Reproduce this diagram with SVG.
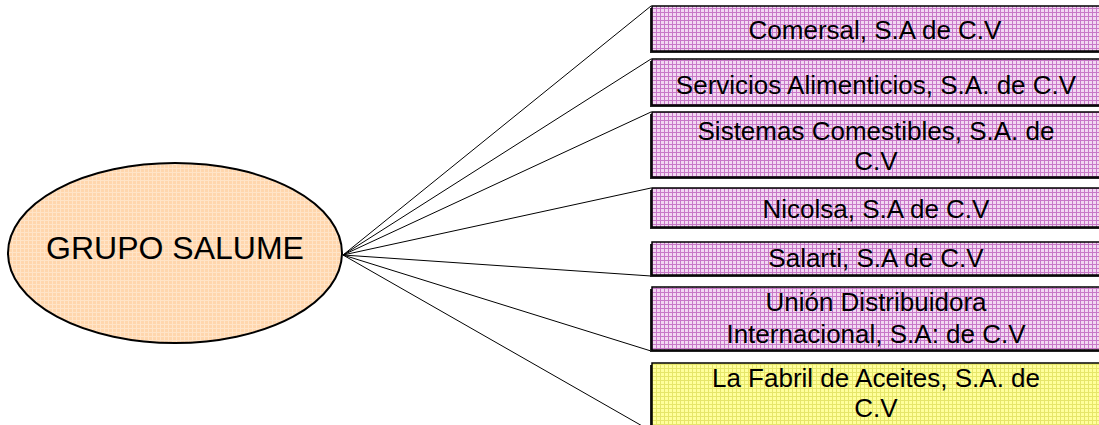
<svg xmlns="http://www.w3.org/2000/svg" width="1099" height="425" viewBox="0 0 1099 425">
<style>
.t{font-family:"Liberation Sans",Arial,sans-serif;font-size:26px;fill:#000;text-anchor:middle}
.box{stroke:#000;stroke-width:1.5}
.sh{fill:#222}
.conn line{stroke:#000;stroke-width:1}
</style>
<defs>
<pattern id="pp" patternUnits="userSpaceOnUse" width="4" height="4">
<rect width="4" height="4" fill="#f2d8f2"/>
<rect x="0" y="0" width="1" height="4" fill="#c878c8"/>
<rect x="0" y="0" width="4" height="1" fill="#c878c8"/>
</pattern>
<pattern id="py" patternUnits="userSpaceOnUse" width="4" height="4">
<rect width="4" height="4" fill="#ffff9c"/>
<rect x="0" y="0" width="1" height="4" fill="#e6e66a"/>
<rect x="0" y="0" width="4" height="1" fill="#e6e66a"/>
</pattern>
<pattern id="po" patternUnits="userSpaceOnUse" width="4" height="4">
<rect width="4" height="4" fill="#ffd6ad"/>
<rect x="0" y="0" width="1" height="4" fill="#ffe4c8"/>
<rect x="0" y="0" width="4" height="1" fill="#ffe4c8"/>
</pattern>
</defs>
<rect width="1099" height="425" fill="#fff"/>
<g id="connectors" class="conn">
<line x1="343" y1="255" x2="651" y2="6"/>
<line x1="343" y1="255" x2="651" y2="59"/>
<line x1="343" y1="255" x2="651" y2="112"/>
<line x1="343" y1="255" x2="651" y2="188"/>
<line x1="343" y1="255" x2="651" y2="276"/>
<line x1="343" y1="255" x2="651" y2="351"/>
<line x1="343" y1="255" x2="651" y2="431"/>
</g>
<g id="grupo">
<ellipse cx="175" cy="253" rx="167" ry="90" fill="url(#po)" stroke="#000" stroke-width="2"/>
<text class="t" x="175" y="259" style="font-size:32px">GRUPO SALUME</text>
</g>
<g id="comersal">
<rect class="sh" x="650" y="8" width="452" height="45"/>
<rect class="box" x="652" y="6" width="450" height="45" fill="url(#pp)"/>
<text class="t" x="875" y="39">Comersal, S.A de C.V</text>
</g>
<g id="servicios">
<rect class="sh" x="650" y="61" width="452" height="46"/>
<rect class="box" x="652" y="59" width="450" height="46" fill="url(#pp)"/>
<text class="t" x="876" y="94">Servicios Alimenticios, S.A. de C.V</text>
</g>
<g id="sistemas">
<rect class="sh" x="650" y="114" width="452" height="65"/>
<rect class="box" x="652" y="112" width="450" height="65" fill="url(#pp)"/>
<text class="t" x="876" y="140">Sistemas Comestibles, S.A. de</text>
<text class="t" x="876" y="170">C.V</text>
</g>
<g id="nicolsa">
<rect class="sh" x="650" y="190" width="452" height="39"/>
<rect class="box" x="652" y="188" width="450" height="39" fill="url(#pp)"/>
<text class="t" x="876" y="218">Nicolsa, S.A de C.V</text>
</g>
<g id="salarti">
<rect class="sh" x="650" y="244" width="452" height="33"/>
<rect class="box" x="652" y="242" width="450" height="33" fill="url(#pp)"/>
<text class="t" x="876" y="267">Salarti, S.A de C.V</text>
</g>
<g id="union">
<rect class="sh" x="650" y="289" width="452" height="63"/>
<rect class="box" x="652" y="287" width="450" height="63" fill="url(#pp)"/>
<text class="t" x="876" y="311">Unión Distribuidora</text>
<text class="t" x="876" y="343">Internacional, S.A: de C.V</text>
</g>
<g id="fabril">
<rect class="sh" x="650" y="365" width="452" height="70"/>
<rect class="box" x="652" y="363" width="450" height="70" fill="url(#py)"/>
<text class="t" x="876" y="387">La Fabril de Aceites, S.A. de</text>
<text class="t" x="876" y="417">C.V</text>
</g>
</svg>
